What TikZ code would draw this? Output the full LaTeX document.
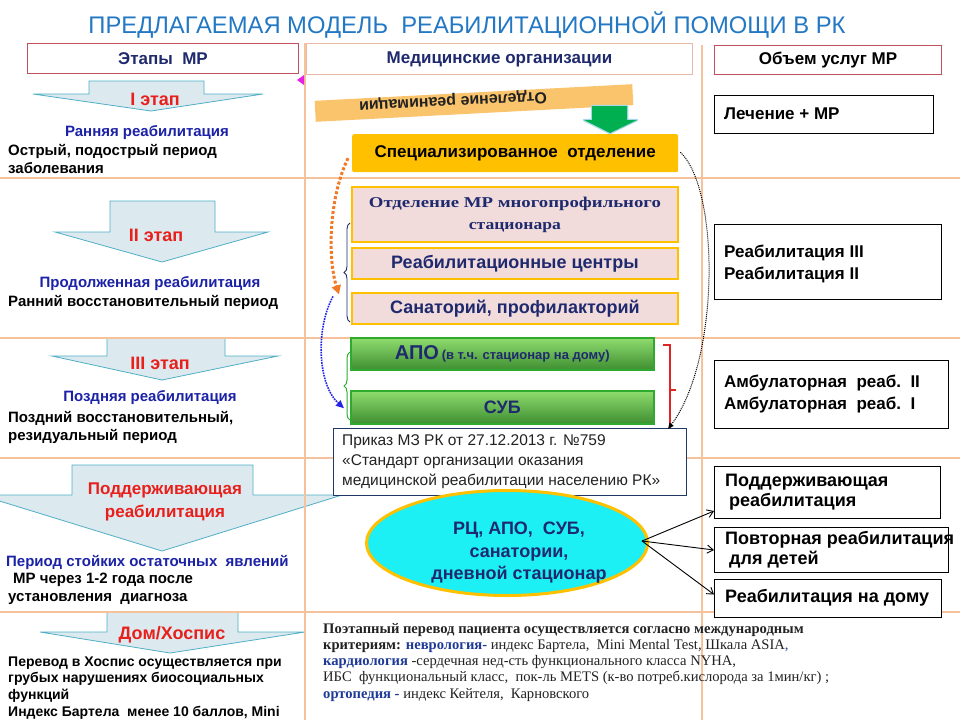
\documentclass[tikz,border=0pt]{standalone}
\usepackage{fontspec}
\setmainfont{Liberation Sans}
\newfontfamily\serifcyr{Liberation Serif}
\usetikzlibrary{arrows.meta,decorations.pathreplacing,shapes.geometric,calc}
\definecolor{gridc}{HTML}{F5C29C}
\definecolor{titleblue}{HTML}{2378C4}
\definecolor{navy}{HTML}{1F2A6E}
\definecolor{lblue}{HTML}{1C22A6}
\definecolor{hdrred}{HTML}{C0505C}
\definecolor{hdrpeach}{HTML}{E6B9A8}
\definecolor{arrfill}{HTML}{DCEAF0}
\definecolor{arrline}{HTML}{4FAFC4}
\definecolor{redtxt}{HTML}{E8201C}
\definecolor{gold}{HTML}{FFC000}
\definecolor{pinkfill}{HTML}{F2DCDB}
\definecolor{bandc}{HTML}{F9C46C}
\definecolor{greenarr}{HTML}{00B050}
\definecolor{glow}{HTML}{A8D8EA}
\definecolor{gtop}{HTML}{8FDC6E}
\definecolor{gbot}{HTML}{3F8F32}
\definecolor{gborder}{HTML}{2EAA2E}
\definecolor{cyanf}{HTML}{1CF0F4}
\definecolor{orangedot}{HTML}{F27A26}
\definecolor{bluedot}{HTML}{2424E6}
\definecolor{bracered}{HTML}{E02424}
\definecolor{magentac}{HTML}{E620E6}
\definecolor{prikazb}{HTML}{1F3864}
\definecolor{serifblue}{HTML}{1F3A96}
\definecolor{darktxt}{HTML}{222222}
\newcommand\fsz[2]{\fontsize{#1}{#2}\selectfont}
\newcommand\stagearrow[8]{%
  \draw[stagearr] (#1,#3) -- (#2,#3) -- (#2,#4) -- (#6,#4) -- (#7,#8) -- (#5,#4) -- (#1,#4) -- cycle;}
\tikzset{
  stagearr/.style={fill=arrfill, draw=arrline, line width=0.8pt},
  gridline/.style={gridc, line width=2.6pt},
  hdrbox/.style={fill=white, line width=1pt, anchor=north west, inner sep=0pt},
  rbox/.style={draw=black, line width=1pt, fill=white, anchor=north west, inner sep=0pt},
  rtext/.style={anchor=west, align=left, inner sep=0pt, font=\fsz{17}{22}\bfseries},
  ltitle/.style={text=lblue, inner sep=0pt, font=\fsz{15}{18}\bfseries},
  ltext/.style={anchor=west, align=left, inner sep=0pt, font=\fsz{15}{18.5}\bfseries},
  stagelbl/.style={text=redtxt, inner sep=0pt, font=\fsz{18}{23}\bfseries, align=center},
  pinkbox/.style={fill=pinkfill, draw=gold, line width=1.8pt, anchor=north west, inner sep=0pt,
    minimum width=326pt, text=navy},
  greenbox/.style={top color=gtop, bottom color=gbot, draw=gborder, line width=1.5pt,
    anchor=north west, inner sep=0pt, minimum width=303pt, text=navy},
  linkarr/.style={-{Straight Barb[length=6pt,width=8pt]}, black, line width=0.9pt}
}
\begin{document}
\begin{tikzpicture}[x=1pt,y=-1pt]
\useasboundingbox (0,0) rectangle (960,720);
\fill[white] (0,0) rectangle (960,720);

% left stage arrows
\stagearrow{89}{204}{81}{94}{33}{263}{151}{111}
\stagearrow{110}{215}{201}{232}{55}{268}{162}{262}
\stagearrow{107}{225}{338}{356}{52}{278}{162}{380}
\stagearrow{72}{253}{465}{495}{-20}{342}{162}{551}
\stagearrow{107}{238}{612}{632}{40}{305}{170}{653}

% grid
\draw[gridline] (0,178) -- (960,178);
\draw[gridline] (0,338) -- (960,338);
\draw[gridline] (0,458) -- (960,458);
\draw[gridline] (0,612) -- (960,612);
\draw[gridline] (305,43) -- (305,720);
\draw[gridline] (702,45) -- (702,720);

% title
\node[text=titleblue, anchor=base, inner sep=0pt] (title) at (467,33)
  {\fsz{24}{28}\resizebox{757pt}{\height}{ПРЕДЛАГАЕМАЯ МОДЕЛЬ\ \ РЕАБИЛИТАЦИОННОЙ ПОМОЩИ В РК}};

% headers
\node[hdrbox, draw=hdrred, minimum width=271pt, minimum height=30pt] (hdrA) at (27,43)
  {\fsz{17}{20}\bfseries\color{navy}Этапы\ \ МР};
\node[hdrbox, draw=hdrpeach, minimum width=386pt, minimum height=31pt] (hdrB) at (306,43)
  {\fsz{17}{20}\bfseries\color{navy}Медицинские организации};
\node[hdrbox, draw=hdrred, minimum width=227pt, minimum height=29pt] (hdrC) at (714,45)
  {\fsz{17}{20}\bfseries Объем услуг МР};
\fill[magentac] (297,80) -- (304,75) -- (304,85) -- cycle;

% stage labels
\node[stagelbl] (s1) at (155,99) {I этап};
\node[stagelbl] (s2) at (156,235) {II этап};
\node[stagelbl] (s3) at (160,363) {III этап};
\node[stagelbl, font=\fsz{17}{23}\bfseries] (s4) at (165,502) {Поддерживающая\\реабилитация};
\node[stagelbl] (s5) at (172,635) {Дом/Хоспис};

% left texts
\node[ltitle] (t1) at (147,133) {Ранняя реабилитация};
\node[ltext] (t1b) at (8,159) {Острый, подострый период\\заболевания};
\node[ltitle] (t2) at (150,284) {Продолженная реабилитация};
\node[ltext] (t2b) at (8,302) {Ранний восстановительный период};
\node[ltitle] (t3) at (150,398) {Поздняя реабилитация};
\node[ltext] (t3b) at (8,427.5) {Поздний восстановительный,\\резидуальный период};
\node[ltext, text=lblue] (t4) at (6,562) {Период стойких остаточных\ \ явлений};
\node[ltext] (t4b) at (8,589) {\hspace*{5pt}МР через 1-2 года после\\установления\ \ диагноза};
\node[ltext, font=\fsz{14}{16.8}\bfseries] (t5) at (8,688) {Перевод в Хоспис осуществляется при\\грубых нарушениях биосоциальных\\функций\\Индекс Бартела\ \ менее 10 баллов, Mini};

% center column
\node[fill=bandc, rotate=3, minimum width=318pt, minimum height=21pt, inner sep=0pt] (band) at (474,103) {};
\node[rotate=183, inner sep=0pt, text=darktxt] (bandtxt) at (453,101) {\fsz{16}{19}\bfseries Отделение реанимации};
\draw[glow, line width=2.5pt, fill=greenarr, line join=round] (592,106) -- (627,106) -- (627,120) -- (637,120) -- (610,133) -- (584,120) -- (592,120) -- cycle;
\fill[greenarr] (592,106) -- (627,106) -- (627,120) -- (637,120) -- (610,133) -- (584,120) -- (592,120) -- cycle;

\node[fill=gold, rounded corners=2pt, minimum width=326pt, minimum height=38pt, anchor=north west, inner sep=0pt] (spec) at (352,134)
  {\fsz{17}{20}\bfseries Специализированное\ \ отделение};

\node[pinkbox, minimum height=55pt] (mr) at (351,186) {};
\node[text=navy, align=center, inner sep=0pt, font={\serifcyr\bfseries\fsz{15}{22}}] (mrtxt) at (mr.center)
  {\resizebox{292pt}{\height}{Отделение МР многопрофильного}\\\resizebox{92pt}{\height}{стационара}};
\node[pinkbox, minimum height=31pt] (rc) at (351,247) {\fsz{18}{21}\bfseries Реабилитационные центры};
\node[pinkbox, minimum height=31pt] (san) at (351,292) {\fsz{18}{21}\bfseries Санаторий, профилакторий};

\draw[navy, line width=0.9pt, decorate, decoration={brace, amplitude=6pt}] (350,322) -- (350,223);

\node[greenbox, minimum height=32pt] (apo) at (350,337)
  {{\fsz{20}{24}\bfseries АПО} {\fsz{13}{16}\bfseries (в т.ч. стационар на дому)}};
\node[greenbox, minimum height=33pt] (sub) at (350,390) {\fsz{18}{21}\bfseries СУБ};
\draw[gborder, line width=1pt, decorate, decoration={brace, amplitude=6pt}] (350,420) -- (350,352);

\draw[bracered, line width=1.2pt] (663,345) -- (670,345) -- (670,435) -- (663,435);
\draw[bracered, line width=1.2pt] (670,390) -- (676,390);

\node[draw=prikazb, line width=1pt, fill=white, minimum width=353pt, minimum height=67pt, anchor=north west, inner sep=0pt] (prikaz) at (333,428) {};
\node[anchor=west, align=left, inner sep=0pt, text=darktxt, font=\fsz{15.5}{20}] (prikaztxt) at (342,462)
  {Приказ МЗ РК от 27.12.2013 г. №759\\«Стандарт организации оказания\\медицинской реабилитации населению РК»};

\node[ellipse, fill=cyanf, draw=gold, line width=3pt, minimum width=281pt, minimum height=105pt, inner sep=0pt] (ell) at (507,543) {};
\node[align=center, inner sep=0pt, text=navy, font=\fsz{18}{22.5}\bfseries] (elltxt) at (519,553)
  {РЦ, АПО,\ \ СУБ,\\санатории,\\дневной стационар};

% right column
\node[rbox, minimum width=219pt, minimum height=38pt] (lech) at (714,95) {};
\node[rtext] (lechtxt) at (724,114) {Лечение + МР};
\node[rbox, minimum width=227pt, minimum height=75pt] (reab) at (714,224) {};
\node[rtext] (reabtxt) at (724,264) {Реабилитация III\\Реабилитация II};
\node[rbox, minimum width=234pt, minimum height=68pt] (amb) at (714,360) {};
\node[rtext] (ambtxt) at (724,394) {Амбулаторная\ \ реаб.\ \ II\\Амбулаторная\ \ реаб.\ \ I};
\node[rbox, minimum width=226pt, minimum height=52pt] (podd) at (714,466) {};
\node[rtext, font=\fsz{18}{20}\bfseries] (poddtxt) at (725,492) {Поддерживающая\\\hspace*{4pt}реабилитация};
\node[rbox, minimum width=234pt, minimum height=45pt] (povt) at (714,527) {};
\node[rtext, font=\fsz{18}{20}\bfseries] (povttxt) at (725,550) {Повторная реабилитация\\\hspace*{4pt}для детей};
\node[rbox, minimum width=227pt, minimum height=38pt] (domb) at (714,579) {};
\node[rtext, font=\fsz{18}{20}\bfseries] (dombtxt) at (725,598) {Реабилитация на дому};

% connectors
\draw[orangedot, line width=3pt, dotted, -{Triangle[length=9pt,width=9pt]}]
  ($(spec.west)+(-4,5)$) .. controls (328,200) and (328,260) .. ($(san.west)+(-12,-14)$);
\draw[bluedot, line width=1.6pt, densely dotted, -{Triangle[length=8pt,width=7pt]}]
  ($(san.west)+(-18,-12)$) .. controls (315,330) and (318,385) .. ($(sub.west)+(-6,1)$);
\draw[black, line width=1pt, densely dotted, -{Triangle[length=6pt,width=5pt]}]
  ($(spec.east)+(2,-1)$) .. controls (720,190) and (720,360) .. ($(prikaz.north east)+(-19,1)$);

\draw[linkarr] ($(ell.east)+(-7,-2)$) -- ($(podd.south west)+(0,-8)$);
\draw[linkarr] ($(ell.east)+(-7,-2)$) -- (povt.west);
\draw[linkarr] ($(ell.east)+(-7,-2)$) -- ($(domb.west)+(0,-4)$);

% bottom note
\node[anchor=north west, align=left, inner sep=0pt, text=darktxt, font={\serifcyr\fsz{14.6}{16.2}}] (note) at (323,623)
  {\textbf{Поэтапный перевод пациента осуществляется согласно международным}\\
  \textbf{критериям: }{\color{serifblue}\textbf{неврология-}} индекс Бартела,\ \ Mini Mental Test, Шкала ASIA{\color{serifblue},}\\
  {\color{serifblue}\textbf{кардиология}} -сердечная нед-сть функционального класса NYHA,\\
  ИБС\ \ функциональный класс,\ \ пок-ль METS (к-во потреб.кислорода за 1мин/кг) ;\\
  {\color{serifblue}\textbf{ортопедия -}} индекс Кейтеля,\ \ Карновского};
\end{tikzpicture}
\end{document}
